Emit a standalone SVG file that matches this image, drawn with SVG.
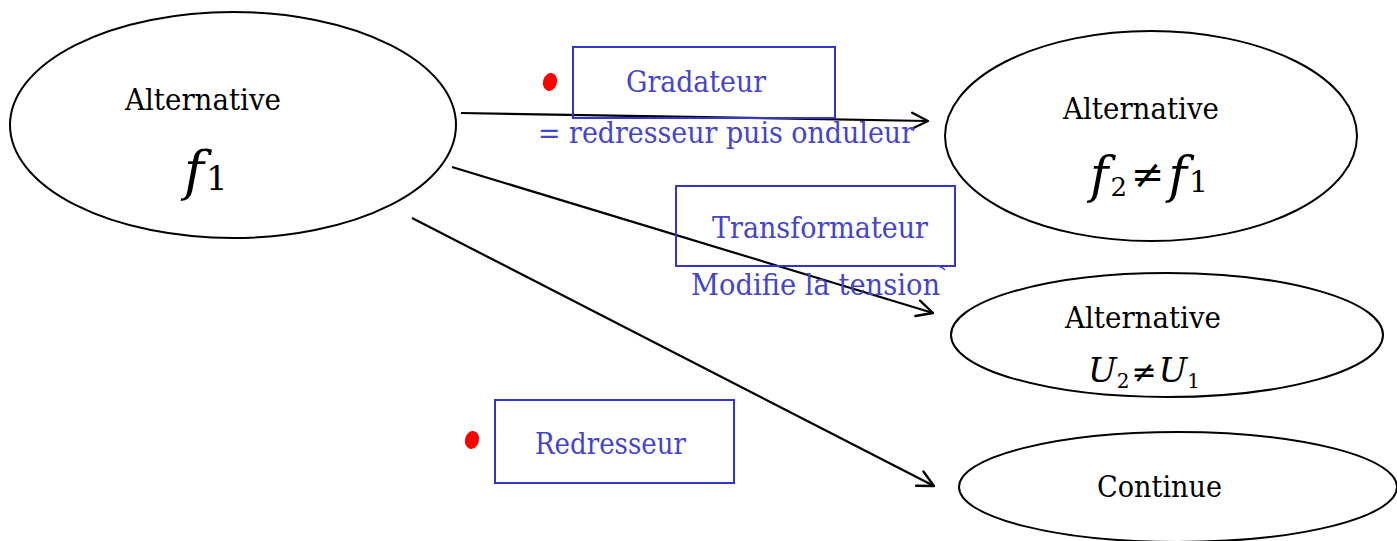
<svg xmlns="http://www.w3.org/2000/svg" width="1397" height="541" viewBox="0 0 1397 541">
  <defs>
    <style>
      .node { fill: #ffffff; stroke: #000000; stroke-width: 2; }
      .label { font-family: 'DejaVu Serif', 'Liberation Serif', serif; font-size: 29px; fill: #000000; }
      .hand { font-family: 'DejaVu Serif', 'Liberation Serif', serif; font-style: italic; fill: #000000; }
      .box { fill: none; stroke: #3535cc; stroke-width: 2; }
      .blue { font-family: 'DejaVu Serif', 'Liberation Serif', serif; font-size: 29px; fill: #4444cc; }
      .dot { fill: #ff0000; }
      .edge { fill: none; stroke: #000000; stroke-width: 2.2; marker-end: url(#open); }
    </style>
    <marker id="open" viewBox="0 0 20 20" refX="18" refY="10" markerWidth="20" markerHeight="20" markerUnits="userSpaceOnUse" orient="auto">
      <path d="M2,2 L18,10 L2,18" fill="none" stroke="#000000" stroke-width="2.4" stroke-linecap="round" stroke-linejoin="round"/>
    </marker>
  </defs>

  <rect width="1397" height="541" fill="#ffffff"/>

  <!-- source: alternating supply f1 -->
  <g id="source">
    <ellipse class="node" cx="233" cy="125" rx="223" ry="113"/>
    <text class="label" x="125" y="110" textLength="156" lengthAdjust="spacingAndGlyphs">Alternative</text>
    <text class="hand" x="184" y="190" font-size="54">f<tspan font-size="34" font-style="normal" dx="2">1</tspan></text>
  </g>

  <!-- target: alternating, other frequency -->
  <g id="alt-frequency">
    <ellipse class="node" cx="1151" cy="136" rx="206" ry="105"/>
    <text class="label" x="1063" y="119" textLength="156" lengthAdjust="spacingAndGlyphs">Alternative</text>
    <text class="hand" x="1090" y="192" font-size="50">f<tspan font-size="26" font-style="normal" dx="2" dy="4">2</tspan><tspan font-size="40" font-style="normal" dx="4" dy="-8">≠</tspan><tspan dx="4" dy="4">f</tspan><tspan font-size="30" font-style="normal" dx="2">1</tspan></text>
  </g>

  <!-- target: alternating, other voltage -->
  <g id="alt-voltage">
    <ellipse class="node" cx="1167" cy="335" rx="216" ry="62"/>
    <text class="label" x="1065" y="328" textLength="156" lengthAdjust="spacingAndGlyphs">Alternative</text>
    <text class="hand" x="1088" y="382" font-size="34">U<tspan font-size="20" font-style="normal" dy="6">2</tspan><tspan font-size="30" font-style="normal" dx="2" dy="-6">≠</tspan><tspan dx="2">U</tspan><tspan font-size="20" font-style="normal" dy="6">1</tspan></text>
  </g>

  <!-- target: direct -->
  <g id="direct">
    <ellipse class="node" cx="1178" cy="487" rx="219" ry="55"/>
    <text class="label" x="1097" y="497" textLength="125" lengthAdjust="spacingAndGlyphs">Continue</text>
  </g>

  <!-- converters -->
  <g id="connectors">
    <line class="edge" x1="461" y1="113" x2="928" y2="121"/>
    <line class="edge" x1="452" y1="167" x2="933" y2="313"/>
    <line class="edge" x1="412" y1="218" x2="934" y2="486"/>
  </g>

  <g id="gradateur">
    <ellipse class="dot" cx="550" cy="82" rx="7" ry="9" transform="rotate(15 550 82)"/>
    <rect class="box" x="573" y="47" width="262" height="71"/>
    <text class="blue" x="626" y="92" textLength="140" lengthAdjust="spacingAndGlyphs">Gradateur</text>
    <text class="blue" x="538" y="143" textLength="376" lengthAdjust="spacingAndGlyphs">= redresseur puis onduleur</text>
  </g>

  <g id="transformateur">
    <rect class="box" x="676" y="186" width="279" height="80"/>
    <text class="blue" x="712" y="238" textLength="216" lengthAdjust="spacingAndGlyphs">Transformateur</text>
    <text class="blue" x="691" y="295" textLength="249" lengthAdjust="spacingAndGlyphs">Modifie la tension</text>
    <path d="M936,266 Q941,266 945,270" fill="none" stroke="#4444cc" stroke-width="1.5"/>
  </g>

  <g id="redresseur">
    <ellipse class="dot" cx="472" cy="440" rx="7" ry="9" transform="rotate(15 472 440)"/>
    <rect class="box" x="495" y="400" width="239" height="83"/>
    <text class="blue" x="535" y="454" textLength="151" lengthAdjust="spacingAndGlyphs">Redresseur</text>
  </g>
</svg>
